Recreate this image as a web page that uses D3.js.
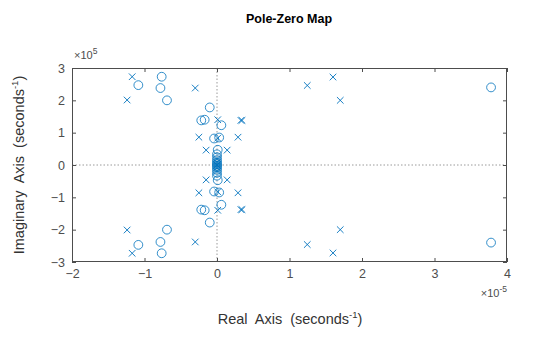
<!DOCTYPE html>
<html>
<head>
<meta charset="utf-8">
<script src="https://cdn.jsdelivr.net/npm/d3@7"></script>
<style>
  html, body { margin: 0; padding: 0; background: #fff; }
  svg { display: block; font-family: "Liberation Sans", Arial, sans-serif; }
</style>
</head>
<body>
<svg id="chart" width="560" height="338"></svg>
<script>
// Pole locations (real part ×1e-5, imaginary part ×1e5)
const poleRe = [-1.17, -1.24, -0.30, -0.25, -0.15, 0.01, 0.33, 0.345, 0.01, 0.29, 0.14, 1.245, 1.60, 1.70,
                0.00, 0.00, 0.00, 0.00,
                -1.17, -1.24, -0.30, -0.25, -0.15, 0.01, 0.33, 0.345, 0.01, 0.29, 0.14, 1.245, 1.60, 1.70,
                0.00, 0.00, 0.00];
const poleIm = [2.73, 2.01, 2.38, 0.86, 0.46, 1.40, 1.38, 1.38, 0.83, 0.86, 0.46, 2.46, 2.72, 2.00,
                0.20, 0.10, 0.04, 0.00,
                -2.73, -2.01, -2.38, -0.86, -0.46, -1.40, -1.38, -1.38, -0.83, -0.86, -0.46, -2.46, -2.72, -2.00,
                -0.20, -0.10, -0.04];

// Zero locations
const zeroRe = [-1.085, -0.763, -0.78, -0.69, -0.10, -0.217, -0.17, -0.04, 0.03, 0.06, 3.78,
                0.01, 0.00, 0.00, 0.00, 0.00, 0.00,
                -1.085, -0.763, -0.78, -0.69, -0.10, -0.217, -0.17, -0.04, 0.03, 0.06, 3.78,
                0.01, 0.00, 0.00, 0.00, 0.00, 0.00];
const zeroIm = [2.47, 2.73, 2.38, 2.00, 1.78, 1.38, 1.40, 0.82, 0.85, 1.23, 2.40,
                0.47, 0.33, 0.24, 0.15, 0.08, 0.03,
                -2.47, -2.73, -2.38, -2.00, -1.78, -1.38, -1.40, -0.82, -0.85, -1.23, -2.40,
                -0.47, -0.33, -0.24, -0.15, -0.08, -0.03];

const xTicks = [-2, -1, 0, 1, 2, 3, 4];
const yTicks = [-3, -2, -1, 0, 1, 2, 3];

const svg = d3.select("#chart");
const plotL = 72, plotR = 507, plotT = 68, plotB = 262;
const x = d3.scaleLinear().domain([-2, 4]).range([plotL, plotR]);
const y = d3.scaleLinear().domain([-3, 3]).range([plotB, plotT]);

const axisColor = "#4d4d4d";
const markColor = "#0072BD";

// Title
svg.append("text")
  .attr("x", 289).attr("y", 23)
  .attr("text-anchor", "middle")
  .attr("font-size", 12.5).attr("font-weight", "bold")
  .attr("fill", "#000")
  .text("Pole-Zero Map");

// Zero reference lines
svg.append("line")
  .attr("x1", x(0)).attr("x2", x(0)).attr("y1", plotT).attr("y2", plotB)
  .attr("stroke", "#808080").attr("stroke-width", 0.8).attr("stroke-dasharray", "1.5,2");
svg.append("line")
  .attr("x1", plotL).attr("x2", plotR).attr("y1", y(0)).attr("y2", y(0))
  .attr("stroke", "#808080").attr("stroke-width", 0.8).attr("stroke-dasharray", "1.5,2");

// Axes with inward ticks
function styleAxis(g) {
  g.select(".domain").remove();
  g.selectAll(".tick line").attr("stroke", axisColor);
  g.selectAll(".tick text").attr("fill", axisColor).attr("font-size", 12.5)
    .attr("font-family", "Liberation Sans, Arial, sans-serif");
}
svg.append("g").attr("transform", `translate(0,${plotB})`)
  .call(d3.axisBottom(x).tickValues(xTicks).tickFormat(d3.format("d"))
    .tickSizeInner(-4).tickSizeOuter(0).tickPadding(7))
  .call(styleAxis);
svg.append("g").attr("transform", `translate(0,${plotT})`)
  .call(d3.axisTop(x).tickValues(xTicks).tickFormat("")
    .tickSizeInner(-4).tickSizeOuter(0))
  .call(styleAxis);
svg.append("g").attr("transform", `translate(${plotL},0)`)
  .call(d3.axisLeft(y).tickValues(yTicks).tickFormat(d3.format("d"))
    .tickSizeInner(-4).tickSizeOuter(0).tickPadding(7))
  .call(styleAxis);
svg.append("g").attr("transform", `translate(${plotR},0)`)
  .call(d3.axisRight(y).tickValues(yTicks).tickFormat("")
    .tickSizeInner(-4).tickSizeOuter(0))
  .call(styleAxis);

// Plot box
svg.append("rect")
  .attr("x", plotL + 0.5).attr("y", plotT + 0.5)
  .attr("width", plotR - plotL - 1).attr("height", plotB - plotT - 1)
  .attr("fill", "none").attr("stroke", axisColor).attr("stroke-width", 1);

// Exponent labels
const expY = svg.append("text").attr("x", plotL + 2).attr("y", 59)
  .attr("font-size", 11).attr("fill", axisColor);
expY.append("tspan").text("×10");
expY.append("tspan").attr("dy", -5).attr("font-size", 8.5).text("5");

const expX = svg.append("text").attr("x", plotR).attr("y", 297)
  .attr("text-anchor", "end").attr("font-size", 11).attr("fill", axisColor);
expX.append("tspan").text("×10");
expX.append("tspan").attr("dy", -5).attr("font-size", 8.5).text("-5");

// Axis titles
const xl = svg.append("text").attr("x", 290).attr("y", 324)
  .attr("text-anchor", "middle").attr("font-size", 14.5).attr("fill", "#333")
  .attr("xml:space", "preserve");
xl.append("tspan").text("Real  Axis  (seconds");
xl.append("tspan").attr("dy", -6).attr("font-size", 9.5).text("-1");
xl.append("tspan").attr("dy", 6).text(")");

const yl = svg.append("text")
  .attr("transform", `translate(24,${(plotT + plotB) / 2}) rotate(-90)`)
  .attr("text-anchor", "middle").attr("font-size", 14.5).attr("fill", "#333")
  .attr("xml:space", "preserve");
yl.append("tspan").text("Imaginary  Axis  (seconds");
yl.append("tspan").attr("dy", -6).attr("font-size", 9.5).text("-1");
yl.append("tspan").attr("dy", 6).text(")");

// Zeros (circles)
const zeros = zeroRe.map((r, i) => ({ re: r, im: zeroIm[i] }));
svg.append("g").selectAll("circle").data(zeros).join("circle")
  .attr("cx", d => x(d.re)).attr("cy", d => y(d.im)).attr("r", 4.4)
  .attr("fill", "none").attr("stroke", markColor).attr("stroke-width", 0.8);

// Poles (crosses)
const poles = poleRe.map((r, i) => ({ re: r, im: poleIm[i] }));
const s = 3.3;
svg.append("g").selectAll("path").data(poles).join("path")
  .attr("d", d => {
    const cx = x(d.re), cy = y(d.im);
    return `M${cx - s},${cy - s}L${cx + s},${cy + s}M${cx - s},${cy + s}L${cx + s},${cy - s}`;
  })
  .attr("fill", "none").attr("stroke", markColor).attr("stroke-width", 0.9);
</script>
</body>
</html>
